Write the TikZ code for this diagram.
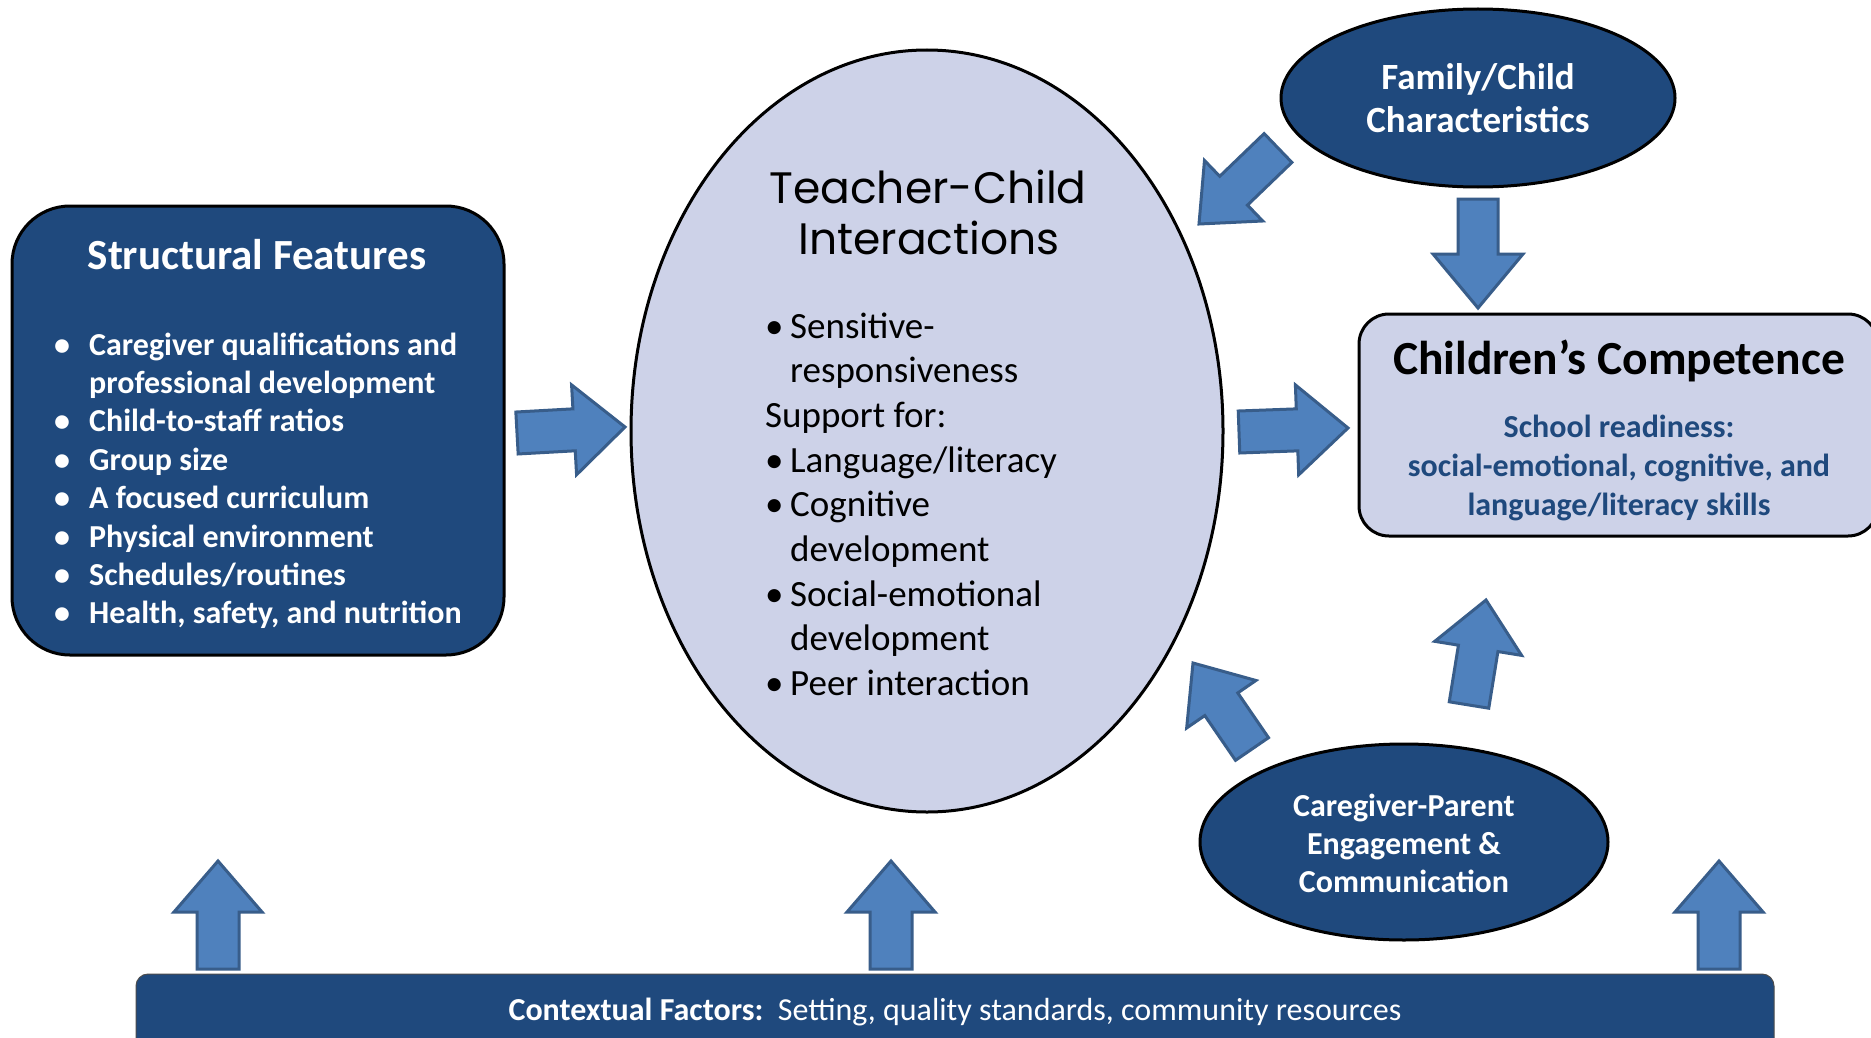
\documentclass[tikz,border=0pt]{standalone}
\usepackage{fontspec}
\setmainfont{Carlito}
\newfontfamily\gothic{Poppins}
\usetikzlibrary{shapes.geometric,calc}
\definecolor{navy}{RGB}{31,73,125}
\definecolor{arrfill}{RGB}{79,129,189}
\definecolor{arrline}{RGB}{56,93,138}
\definecolor{lav}{RGB}{205,210,232}
\tikzset{
  barrow/.style={fill=arrfill, draw=arrline, line width=3pt},
  darkbox/.style={fill=navy, draw=black, line width=3pt},
  lightbox/.style={fill=lav, draw=black, line width=3pt},
  wtxt/.style={text=white, inner sep=0pt},
}
\newcommand{\blockarrow}[5]{%
  \coordinate (hb) at ($(#2)!#5!(#1)$);
  \draw[barrow] ($(#1)!#3!90:(#2)$) -- ($(hb)!#3!90:(#2)$) -- ($(hb)!#4!90:(#2)$) -- (#2)
    -- ($(hb)!#4!-90:(#2)$) -- ($(hb)!#3!-90:(#2)$) -- ($(#1)!#3!-90:(#2)$) -- cycle;
}
\begin{document}
\begin{tikzpicture}[x=1pt,y=1pt]
\useasboundingbox (0,0) rectangle (1871,-1038);
\clip (0,0) rectangle (1871,-1038);
\fill[white] (0,0) rectangle (1871,-1038);

% Structural features
\node[darkbox, rectangle, rounded corners=58pt, minimum width=492pt, minimum height=449pt] (sf) at (258,-430.5) {};
\node[wtxt, anchor=base, font=\fontsize{43}{48}\selectfont\bfseries] (sftitle) at (257,-269) {Structural Features};
\node[wtxt, anchor=base west, font=\fontsize{32}{38.4}\selectfont\bfseries] (sflist) at (54,-355) {\begin{tabular}[t]{@{}p{35pt}@{}l@{}}
\textbullet & Caregiver qualifications and\\
 & professional development\\
\textbullet & Child-to-staff ratios\\
\textbullet & Group size\\
\textbullet & A focused curriculum\\
\textbullet & Physical environment\\
\textbullet & Schedules/routines\\
\textbullet & Health, safety, and nutrition
\end{tabular}};

% Teacher-child interactions
\node[lightbox, ellipse, minimum width=592pt, minimum height=762pt, inner sep=0pt] (tci) at (927,-431) {};
\node[inner sep=0pt, anchor=base, font=\gothic\fontsize{44}{51}\selectfont] (tcit1) at (928,-203) {Teacher-Child};
\node[inner sep=0pt, anchor=base, font=\gothic\fontsize{44}{51}\selectfont] (tcit2) at (929,-254) {Interactions};
\node[inner sep=0pt, anchor=base west, font=\fontsize{37}{44.7}\selectfont] (tcilist) at (765,-338) {\begin{tabular}[t]{@{}p{25pt}@{}l@{}}
\textbullet & Sensitive-\\
 & responsiveness\\
\multicolumn{2}{@{}l@{}}{Support for:}\\
\textbullet & Language/literacy\\
\textbullet & Cognitive\\
 & development\\
\textbullet & Social-emotional\\
 & development\\
\textbullet & Peer interaction
\end{tabular}};

% Family/child
\node[darkbox, ellipse, minimum width=394pt, minimum height=178pt, inner sep=0pt] (fam) at (1478,-98) {};
\node[wtxt, anchor=base, font=\fontsize{37}{43}\selectfont\bfseries] (famt1) at (1478,-90) {Family/Child};
\node[wtxt, anchor=base, font=\fontsize{37}{43}\selectfont\bfseries] (famt2) at (1478,-133) {Characteristics};

% Children's competence
\node[lightbox, rectangle, rounded corners=30pt, minimum width=519pt, minimum height=222pt] (cc) at (1618.5,-425) {};
\node[inner sep=0pt, anchor=base, font=\fontsize{47.5}{52}\selectfont\bfseries] (cct) at (1619,-374) {Children’s Competence};
\node[inner sep=0pt, anchor=base, text=navy, font=\fontsize{32}{39}\selectfont\bfseries] (cc1) at (1619,-437) {School readiness:};
\node[inner sep=0pt, anchor=base, text=navy, font=\fontsize{32}{39}\selectfont\bfseries] (cc2) at (1619,-476) {social-emotional, cognitive, and};
\node[inner sep=0pt, anchor=base, text=navy, font=\fontsize{32}{39}\selectfont\bfseries] (cc3) at (1619,-515) {language/literacy skills};

% Caregiver-parent
\node[darkbox, ellipse, minimum width=408pt, minimum height=196pt, inner sep=0pt] (cp) at (1404,-842) {};
\node[wtxt, anchor=base, font=\fontsize{32}{38}\selectfont\bfseries] (cpt1) at (1404,-816) {Caregiver-Parent};
\node[wtxt, anchor=base, font=\fontsize{32}{38}\selectfont\bfseries] (cpt2) at (1404,-854) {Engagement \&};
\node[wtxt, anchor=base, font=\fontsize{32}{38}\selectfont\bfseries] (cpt3) at (1404,-892) {Communication};

% Contextual factors bar
\node[fill=navy, draw=black!70, line width=1pt, rectangle, rounded corners=12pt, minimum width=1638pt, minimum height=120pt] (ctx) at (955,-1034) {};
\node[wtxt, anchor=base, font=\fontsize{32}{36}\selectfont] (ctxt) at (955,-1020) {\textbf{Contextual Factors:}\ \ Setting, quality standards, community resources};

% arrows
\coordinate (a1t) at (517,-433); \coordinate (a1p) at (625,-427);
\coordinate (a2t) at (1239,-432); \coordinate (a2p) at (1348,-428);
\coordinate (a3t) at (1278,-148); \coordinate (a3p) at (1199,-224);
\coordinate (a4t) at (1478,-199); \coordinate (a4p) at (1478,-308);
\coordinate (a5t) at (1252,-749); \coordinate (a5p) at (1193,-663);
\coordinate (a6t) at (1469,-705); \coordinate (a6p) at (1486,-600);
\coordinate (a7t) at (218,-969); \coordinate (a7p) at (218,-861);
\coordinate (a8t) at (891,-969); \coordinate (a8p) at (891,-861);
\coordinate (a9t) at (1719,-969); \coordinate (a9p) at (1719,-861);
\blockarrow{a1t}{a1p}{21pt}{45pt}{51pt}
\blockarrow{a2t}{a2p}{21pt}{45pt}{51pt}
\blockarrow{a3t}{a3p}{20pt}{42pt}{48pt}
\blockarrow{a4t}{a4p}{20pt}{45pt}{54pt}
\blockarrow{a5t}{a5p}{20pt}{42pt}{50pt}
\blockarrow{a6t}{a6p}{20pt}{44pt}{49pt}
\blockarrow{a7t}{a7p}{21pt}{44pt}{51pt}
\blockarrow{a8t}{a8p}{21pt}{44pt}{51pt}
\blockarrow{a9t}{a9p}{21pt}{44pt}{51pt}
\end{tikzpicture}
\end{document}
